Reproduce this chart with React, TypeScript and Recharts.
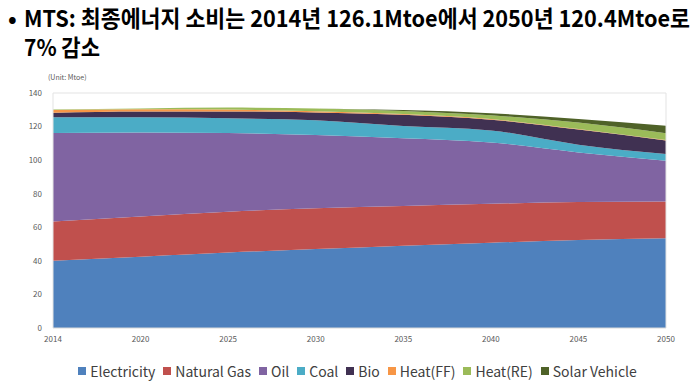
import React from "react";
import { AreaChart, Area, XAxis, YAxis, ReferenceLine } from "recharts";

const FONT = '"Noto Sans CJK KR", "Noto Sans", sans-serif';

const YEARS = ["2014", "2020", "2025", "2030", "2035", "2040", "2045", "2050"];
const ELECTRICITY = [40, 42.5, 45, 47, 49, 50.8, 52.4, 53.5];
const NATURAL_GAS = [23.5, 24, 24.3, 24.3, 23.7, 23.2, 22.6, 21.8];
const OIL = [52.6, 50, 46.8, 43.7, 40.3, 36.5, 29.6, 24.3];
const COAL = [9.4, 9.0, 8.8, 8.7, 7.3, 7.2, 4.6, 4.0];
const BIO = [2.7, 3.5, 4.1, 4.7, 6.7, 6.4, 9.0, 8.1];
const HEAT_FF = [1.6, 1.3, 1.1, 0.8, 0.5, 0.4, 0.3, 0.3];
const HEAT_RE = [0.3, 0.5, 1.2, 1.6, 1.8, 2.2, 3.9, 4.0];
const SOLAR_VEHICLE = [0, 0, 0, 0, 0.5, 1.2, 2.1, 4.5];
const Y_TICKS = [0, 20, 40, 60, 80, 100, 120, 140];

const SERIES = [
    { key: "electricity", name: "Electricity", color: "#4F81BD", values: ELECTRICITY },
    { key: "gas", name: "Natural Gas", color: "#C0504D", values: NATURAL_GAS },
    { key: "oil", name: "Oil", color: "#8064A2", values: OIL },
    { key: "coal", name: "Coal", color: "#4BACC6", values: COAL },
    { key: "bio", name: "Bio", color: "#403152", values: BIO },
    { key: "heatFF", name: "Heat(FF)", color: "#F79646", values: HEAT_FF },
    { key: "heatRE", name: "Heat(RE)", color: "#9BBB59", values: HEAT_RE },
    { key: "solar", name: "Solar Vehicle", color: "#4F6228", values: SOLAR_VEHICLE }
];

const data = YEARS.map((year, i) => {
    const row: any = { year };
    SERIES.forEach((s) => {
        row[s.key] = s.values[i];
    });
    return row;
});

const tickStyle = { fontSize: 8, fill: "#595959", fontFamily: FONT };

export default function App() {
    return (
        <div
            style={{
                position: "absolute",
                left: 0,
                top: 0,
                width: 700,
                height: 385,
                background: "#fff",
                fontFamily: FONT,
                overflow: "hidden"
            }}>
            <svg width={700} height={64} style={{ position: "absolute", left: 0, top: 0 }}>
                <text x={8} y={27} fontSize={23} fontWeight={700} fill="#000" fontFamily={FONT}>
                    •
                </text>
                <text
                    x={24}
                    y={27}
                    fontSize={23}
                    fontWeight={700}
                    fill="#000"
                    fontFamily={FONT}
                    textLength={666}
                    lengthAdjust="spacingAndGlyphs">
                    MTS: 최종에너지 소비는 2014년 126.1Mtoe에서 2050년 120.4Mtoe로
                </text>
                <text
                    x={24}
                    y={56}
                    fontSize={23}
                    fontWeight={700}
                    fill="#000"
                    fontFamily={FONT}
                    textLength={76}
                    lengthAdjust="spacingAndGlyphs">
                    7% 감소
                </text>
            </svg>
            <div style={{ position: "absolute", left: 48, top: 72, fontSize: 7, color: "#595959" }}>
                (Unit: Mtoe)
            </div>
            <AreaChart
                width={700}
                height={360}
                data={data}
                style={{ position: "absolute", left: 0, top: 0 }}
                margin={{ top: 93, right: 34, left: 13, bottom: 12 }}>
                <XAxis
                    dataKey="year"
                    height={20}
                    interval={0}
                    axisLine={{ stroke: "#d9d9d9" }}
                    tickLine={false}
                    tick={tickStyle}
                />
                <YAxis
                    width={40}
                    domain={[0, 140]}
                    ticks={Y_TICKS}
                    axisLine={{ stroke: "#e3e3e3" }}
                    tickLine={false}
                    tick={tickStyle}
                    dx={-3}
                />
                <ReferenceLine y={140} stroke="#e3e3e3" />
                <ReferenceLine x="2050" stroke="#e3e3e3" />
                {SERIES.map((s) => (
                    <Area
                        key={s.key}
                        type="monotone"
                        dataKey={s.key}
                        name={s.name}
                        stackId="1"
                        stroke="none"
                        fill={s.color}
                        fillOpacity={1}
                        isAnimationActive={false}
                    />
                ))}
            </AreaChart>
            <div
                style={{
                    position: "absolute",
                    left: 0,
                    width: 715,
                    top: 361,
                    display: "flex",
                    justifyContent: "center",
                    gap: 8,
                    fontSize: 14,
                    color: "#404040"
                }}>
                {SERIES.map((s) => (
                    <div key={s.key} style={{ display: "flex", alignItems: "center", gap: 4 }}>
                        <span style={{ width: 8, height: 8, background: s.color, display: "inline-block" }} />
                        <span>{s.name}</span>
                    </div>
                ))}
            </div>
        </div>
    );
}
